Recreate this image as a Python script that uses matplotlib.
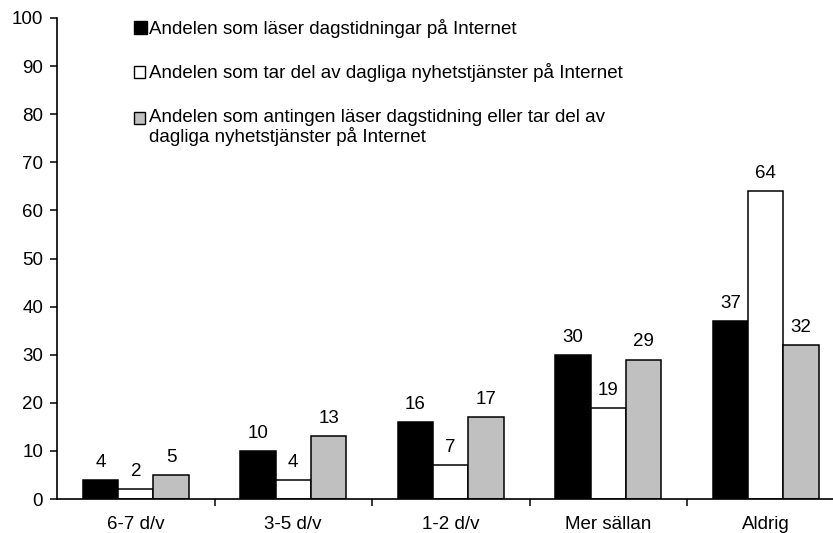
import matplotlib
matplotlib.use("Agg")
import matplotlib.pyplot as plt
from matplotlib.patches import Rectangle
import numpy as np

plt.rcParams['font.family'] = ['Liberation Sans', 'DejaVu Sans']

categories = ["6-7 d/v", "3-5 d/v", "1-2 d/v", "Mer sällan", "Aldrig"]
series_names = [
    ["Andelen som läser dagstidningar på Internet"],
    ["Andelen som tar del av dagliga nyhetstjänster på Internet"],
    ["Andelen som antingen läser dagstidning eller tar del av",
     "dagliga nyhetstjänster på Internet"],
]
reads_papers = [4, 10, 16, 30, 37]
news_services = [2, 4, 7, 19, 64]
either = [5, 13, 17, 29, 32]
series_values = [reads_papers, news_services, either]
series_colors = ["#000000", "#ffffff", "#c0c0c0"]
y_ticks = list(range(0, 101, 10))

FS = 13.5
W, H = 833, 533
fig = plt.figure(figsize=(W / 100, H / 100), dpi=100)
ax = fig.add_axes([57 / W, 1 - 499 / H, 787.5 / W, 481 / H])

x = np.arange(len(categories))
width = 0.225
offsets = [-width, 0, width]
for vals, off, col in zip(series_values, offsets, series_colors):
    bars = ax.bar(x + off, vals, width=width, color=col, edgecolor="black",
                  linewidth=1.1, zorder=2)
    for b, v in zip(bars, vals):
        ax.annotate(str(v), (b.get_x() + b.get_width() / 2, v),
                    xytext=(0, 6.5), textcoords="offset points",
                    ha="center", va="bottom", fontsize=FS)

ax.set_xlim(-0.5, len(categories) - 0.5)
ax.set_ylim(0, 100)
ax.set_yticks(y_ticks)
ax.tick_params(axis="y", length=5, width=1.1, pad=5, labelsize=FS)

# Ticks at category boundaries, labels centred in each category
ax.set_xticks(np.arange(len(categories) - 1) + 0.5)
ax.set_xticklabels([])
ax.set_xticks(x, minor=True)
ax.set_xticklabels(categories, minor=True, fontsize=FS)
ax.tick_params(axis="x", which="major", length=5, width=1.1)
ax.tick_params(axis="x", which="minor", length=0, pad=12)

for side in ("top", "right"):
    ax.spines[side].set_visible(False)
for side in ("left", "bottom"):
    ax.spines[side].set_linewidth(1.2)

# Legend drawn as coloured squares with text beside them
legend_rows = [28, 72, 118]
box_sizes = [13, 11, 11]
line_step = 19
for lines, col, yc, s in zip(series_names, series_colors, legend_rows, box_sizes):
    fig.patches.append(Rectangle((134 / W, 1 - (yc + s / 2) / H), s / W, s / H,
                                 transform=fig.transFigure, facecolor=col,
                                 edgecolor="black", linewidth=1.0))
    for i, line in enumerate(lines):
        fig.text(149 / W, 1 - (yc + i * line_step) / H, line, ha="left",
                 va="center", fontsize=FS)

fig.savefig("out.png", dpi=100)
